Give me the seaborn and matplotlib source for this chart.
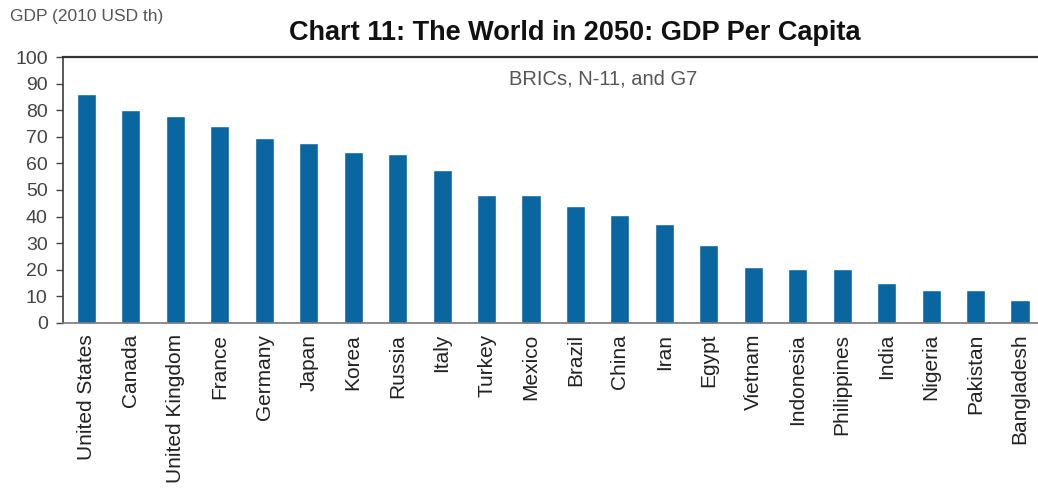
import matplotlib
matplotlib.use("Agg")
import matplotlib.pyplot as plt
import seaborn as sns
import pandas as pd

countries = ["United States", "Canada", "United Kingdom", "France", "Germany", "Japan",
             "Korea", "Russia", "Italy", "Turkey", "Mexico", "Brazil", "China", "Iran",
             "Egypt", "Vietnam", "Indonesia", "Philippines", "India", "Nigeria",
             "Pakistan", "Bangladesh"]
gdp_per_capita = [86, 80, 78, 74, 69.7, 67.7, 64.5, 63.4, 57.7, 48.2, 48.2, 43.8, 40.5,
                  37.3, 29.2, 21, 20.3, 20.3, 14.8, 12.2, 12.2, 8.4]
y_ticks = list(range(0, 101, 10))

df = pd.DataFrame({"country": countries, "gdp": gdp_per_capita})

sns.set_theme(style="white")
plt.rcParams['font.family'] = ['Liberation Sans', 'DejaVu Sans']

fig = plt.figure(figsize=(10.38, 4.91), dpi=100)
ax = fig.add_axes([63 / 1038, 1 - 322.7 / 491, 1 - 63 / 1038, (322.7 - 57.3) / 491])

sns.barplot(data=df, x="country", y="gdp", color="#0a66a0", width=0.43,
            saturation=1, ax=ax)

ax.set_xlim(-0.527, len(countries) - 1 + 0.405)
ax.set_ylim(0, 100)
ax.set_yticks(y_ticks)
ax.set_xlabel("")
ax.set_ylabel("")

ax.tick_params(axis="y", which="both", left=True, length=5, width=1, color="#444444",
               labelsize=14, labelcolor="#444444", pad=6)
ax.tick_params(axis="x", which="both", bottom=False, labelsize=15,
               labelcolor="#222222", pad=2)
for lab in ax.get_xticklabels():
    lab.set_rotation(90)

for side in ["left", "bottom", "top"]:
    ax.spines[side].set_visible(True)
ax.spines["right"].set_visible(False)
ax.spines["left"].set_color("#444444")
ax.spines["bottom"].set_color("#777777")
ax.spines["top"].set_color("#333333")
ax.spines["top"].set_linewidth(1.6)
ax.spines["bottom"].set_linewidth(1.2)

fig.text(575 / 1038, 1 - 33 / 491, "Chart 11: The World in 2050: GDP Per Capita",
         ha="center", va="center", fontsize=19.5, fontweight="bold", color="#111111")
fig.text(10 / 1038, 1 - 17 / 491, "GDP (2010 USD th)", ha="left", va="center",
         fontsize=12.5, color="#555555")
ax.text(0.554, 0.92, "BRICs, N-11, and G7", transform=ax.transAxes, ha="center",
        va="center", fontsize=14.5, color="#555555")

fig.savefig("out.png", dpi=100)
